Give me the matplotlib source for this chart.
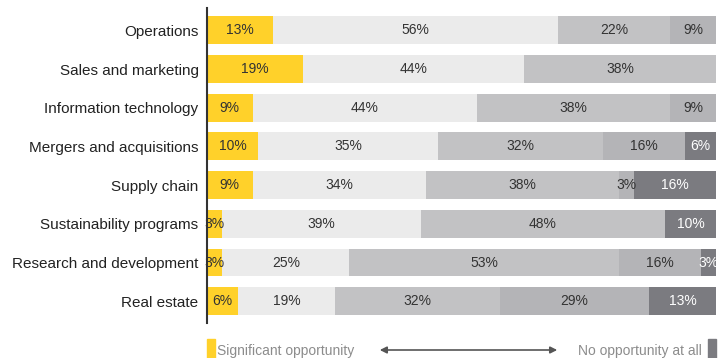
import matplotlib
matplotlib.use("Agg")
import matplotlib.pyplot as plt
from matplotlib.patches import Rectangle, FancyArrowPatch
import numpy as np

plt.rcParams["font.family"] = ["Liberation Sans", "DejaVu Sans"]

# ── data ────────────────────────────────────────────────────────────────
categories = [
    "Operations", "Sales and marketing", "Information technology",
    "Mergers and acquisitions", "Supply chain", "Sustainability programs",
    "Research and development", "Real estate",
]
significant = [13, 19, 9, 10, 9, 3, 3, 6]
some        = [56, 44, 44, 35, 34, 39, 25, 19]
little      = [22, 38, 38, 32, 38, 48, 53, 32]
very_little = [9, 0, 9, 16, 3, 0, 16, 29]
none_at_all = [0, 0, 0, 6, 16, 10, 3, 13]

series = [significant, some, little, very_little, none_at_all]
colors = ["#FFD12A", "#EBEBEB", "#C2C2C4", "#B4B4B7", "#7B7B80"]
text_colors = ["#333333", "#333333", "#333333", "#333333", "#FFFFFF"]

# ── plot ────────────────────────────────────────────────────────────────
fig = plt.figure(figsize=(7.26, 3.58), dpi=100)
ax = fig.add_axes([0.285, 0.098, 0.701, 0.880])

vals = np.array(series, dtype=float)
totals = vals.sum(axis=0)
y = np.arange(len(categories))
left = np.zeros(len(categories))

for row, color, tcol in zip(vals, colors, text_colors):
    widths = row / totals * 100
    ax.barh(y, widths, left=left, height=0.72, color=color, edgecolor="none")
    for yi, (l, w, v) in enumerate(zip(left, widths, row)):
        if v > 0:
            ax.text(l + w / 2, yi, f"{int(v)}%", ha="center", va="center",
                    fontsize=10, color=tcol)
    left += widths

ax.set_xlim(0, 100)
ax.set_ylim(7.56, -0.58)
ax.set_yticks(y)
ax.set_yticklabels(categories, fontsize=11, color="#222222")
ax.tick_params(axis="y", length=0, pad=6)
ax.set_xticks([])
for side in ["top", "right", "bottom"]:
    ax.spines[side].set_visible(False)
ax.spines["left"].set_color("#333333")
ax.spines["left"].set_linewidth(1.5)
ax.set_zorder(1)

# ── legend strip ────────────────────────────────────────────────────────
W, H = 726, 358
def fx(px): return px / W
def fy(py): return 1 - py / H

fig.patches.append(Rectangle((fx(207), fy(358)), fx(8), 19 / H,
                             transform=fig.transFigure, color="#FFD12A"))
fig.patches.append(Rectangle((fx(708), fy(358)), fx(8), 19 / H,
                             transform=fig.transFigure, color="#7B7B80"))
fig.text(fx(217), fy(351), "Significant opportunity", ha="left", va="center",
         fontsize=10, color="#8C8C8C")
fig.text(fx(702), fy(351), "No opportunity at all", ha="right", va="center",
         fontsize=10, color="#8C8C8C")
fig.add_artist(FancyArrowPatch(
    (fx(377), fy(350)), (fx(560), fy(350)), transform=fig.transFigure,
    arrowstyle="<|-|>", mutation_scale=10, color="#555555", linewidth=1.2))

fig.savefig("out.png", dpi=100)
